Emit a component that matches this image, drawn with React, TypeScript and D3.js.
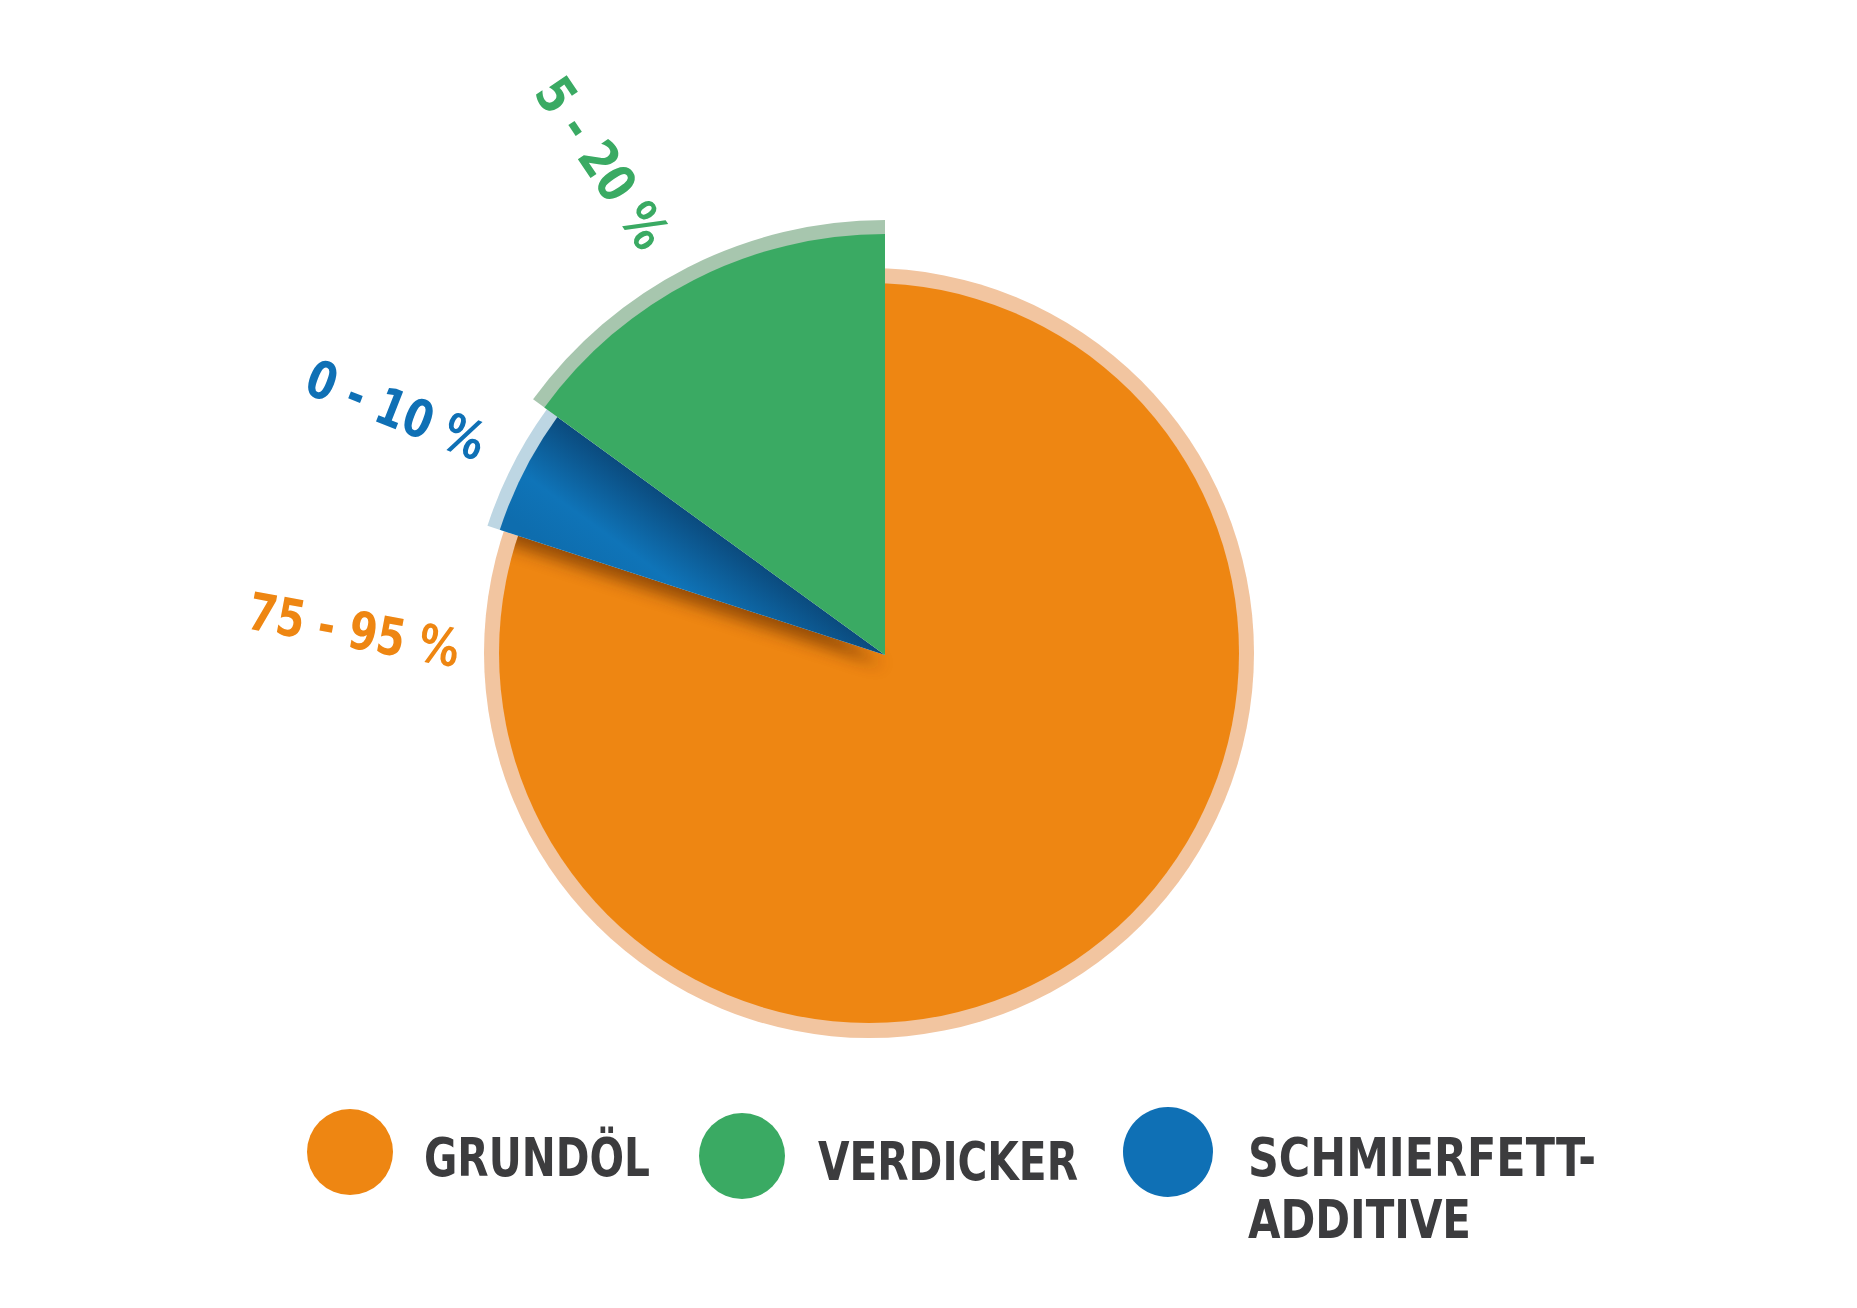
import React from "react";
import * as d3 from "d3";

// ---- data ----
const sliceNames = ["Grundöl", "Schmierfett-Additive", "Verdicker"];
const sliceValues = [80, 5, 15];
const rangeLabels = ["75 - 95 %", "0 - 10 %", "5 - 20 %"];
const legendNames = ["GRUNDÖL", "VERDICKER", "SCHMIERFETT-|ADDITIVE"];

// ---- styles / layout ----
const W = 1857;
const H = 1308;
const CX = 885;
const CY = 655;
const mainColors = ["#EE8612", "url(#blueGrad)", "#3AAA63"];
const ringColors = ["#F2C5A0", "#BDD6E3", "#A7C6AE"];
const labelColors = ["#EE8612", "#0F70B5", "#3AAA63"];
const sliceRadius = [370, 405, 421];
const ringRadius = [385, 418, 435];
const orangeOffset = [-16, -2];
// label placement: [x, y, rotation, length]
const labelLayout = [
  [354, 630, 10.5, 214],
  [396, 410, 21.5, 188],
  [602, 163, 56, 194],
];
const legendLayout = [
  { cx: 350, cy: 1152, r: 43, color: "#EE8612", tx: 424, ty: 1176, lens: [226] },
  { cx: 742, cy: 1156, r: 43, color: "#3AAA63", tx: 818, ty: 1180, lens: [260] },
  { cx: 1168, cy: 1152, r: 45, color: "#0F70B5", tx: 1248, ty: 1176, lens: [348, 223] },
];
const FONT = "'DejaVu Sans Condensed', 'DejaVu Sans', sans-serif";

export default function App() {
  const pie = d3.pie<number>().value((d) => d).sort(null);
  const arcs = pie(sliceValues);
  const arcGen = d3.arc<any>().innerRadius(0);

  const orange = arcs[0];
  const blue = arcs[1];
  const green = arcs[2];

  const orangePath = arcGen.outerRadius(520)(orange) as string;
  const bluePath = arcGen.outerRadius(sliceRadius[1])(blue) as string;
  const blueRing = arcGen.outerRadius(ringRadius[1])(blue) as string;
  const greenPath = arcGen.outerRadius(sliceRadius[2])(green) as string;
  const greenRing = arcGen.outerRadius(ringRadius[2])(green) as string;

  // gradient across blue slice, perpendicular to the green/blue border
  const a = green.startAngle;
  const ex = Math.sin(a), ey = -Math.cos(a);
  const nx = -ey, ny = ex;
  const p0x = ex * 250, p0y = ey * 250;
  const bm = (blue.startAngle + blue.endAngle) / 2;
  const bx = Math.sin(bm), by = -Math.cos(bm);
  const sgn = nx * bx + ny * by > 0 ? 1 : -1;
  const p1x = p0x + sgn * nx * 110, p1y = p0y + sgn * ny * 110;

  return (
    <svg
      width={W}
      height={H}
      style={{ position: "absolute", left: 0, top: 0, display: "block", background: "#fff" }}
      xmlns="http://www.w3.org/2000/svg"
    >
      <defs>
        <clipPath id="orangeRingClip">
          <circle cx={orangeOffset[0]} cy={orangeOffset[1]} r={ringRadius[0]} />
        </clipPath>
        <clipPath id="orangeClip">
          <circle cx={orangeOffset[0]} cy={orangeOffset[1]} r={sliceRadius[0]} />
        </clipPath>
        <linearGradient id="blueGrad" gradientUnits="userSpaceOnUse" x1={p0x} y1={p0y} x2={p1x} y2={p1y}>
          <stop offset="0" stopColor="#0B4B7E" />
          <stop offset="0.6" stopColor="#0F74B8" />
          <stop offset="1" stopColor="#0E6DAE" />
        </linearGradient>
        <filter id="shadowBlur" x="-50%" y="-50%" width="200%" height="200%">
          <feGaussianBlur stdDeviation="8" />
        </filter>
      </defs>
      <g transform={`translate(${CX},${CY})`}>
        <path d={orangePath} fill={ringColors[0]} clipPath="url(#orangeRingClip)" />
        <path d={orangePath} fill={mainColors[0]} clipPath="url(#orangeClip)" />
        <g clipPath="url(#orangeClip)">
          <path
            d={bluePath}
            fill="#5A2600"
            opacity={0.6}
            transform="translate(-2,11)"
            filter="url(#shadowBlur)"
          />
        </g>
        <path d={blueRing} fill={ringColors[1]} />
        <path d={bluePath} fill={mainColors[1]} />
        <path d={greenRing} fill={ringColors[2]} />
        <path d={greenPath} fill={mainColors[2]} />
      </g>
      {rangeLabels.map((t, i) => {
        const [x, y, rot, len] = labelLayout[i];
        return (
          <text
            key={t}
            transform={`translate(${x},${y}) rotate(${rot})`}
            textAnchor="middle"
            dominantBaseline="central"
            fontFamily={FONT}
            fontWeight="bold"
            fontSize={52}
            fill={labelColors[i]}
            textLength={len}
            lengthAdjust="spacingAndGlyphs"
          >
            {t}
          </text>
        );
      })}
      {legendNames.map((name, i) => {
        const L = legendLayout[i];
        const lines = name.split("|");
        return (
          <g key={name}>
            <circle cx={L.cx} cy={L.cy} r={L.r} fill={L.color} />
            {lines.map((ln, j) => (
              <text
                key={ln}
                x={L.tx}
                y={L.ty + j * 62}
                fontFamily={FONT}
                fontWeight="bold"
                fontSize={53}
                fill="#3C3C3E"
                textLength={L.lens[j]}
                lengthAdjust="spacingAndGlyphs"
              >
                {ln}
              </text>
            ))}
          </g>
        );
      })}
    </svg>
  );
}
